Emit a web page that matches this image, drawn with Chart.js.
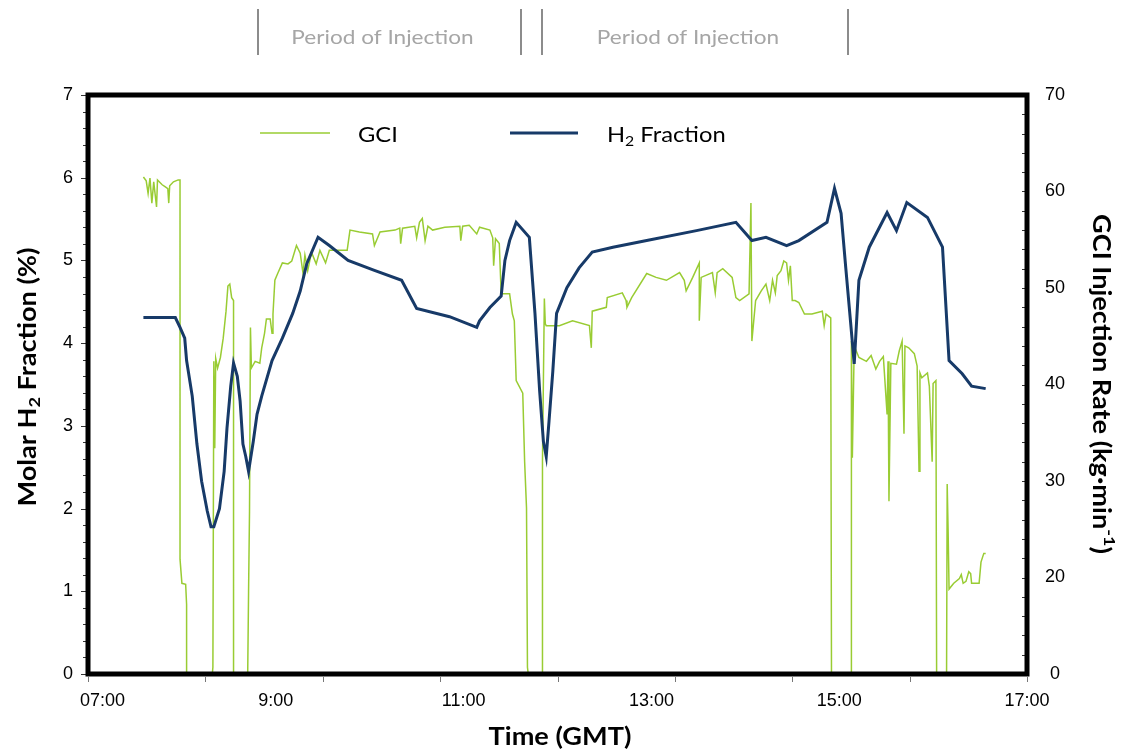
<!DOCTYPE html>
<html>
<head>
<meta charset="utf-8">
<script src="https://cdn.jsdelivr.net/npm/chart.js@4.4.1/dist/chart.umd.min.js"></script>
<style>
  html, body { margin: 0; padding: 0; background: #fff; }
  canvas { display: block; }
</style>
</head>
<body>
<canvas id="chart" width="1127" height="751"></canvas>
<script>
// Times are decimal hours (GMT)
const h2Times = [
  7.59, 7.93, 7.98, 8.03, 8.05, 8.11, 8.16, 8.21, 8.27, 8.31,
  8.34, 8.40, 8.45, 8.48, 8.52, 8.55, 8.59, 8.62, 8.65, 8.68,
  8.71, 8.76, 8.80, 8.85, 8.96, 9.07, 9.18, 9.26, 9.33, 9.45,
  9.57, 9.77, 10.05, 10.34, 10.50, 10.85, 11.14, 11.17, 11.28, 11.40,
  11.44, 11.49, 11.56, 11.70, 11.76, 11.81, 11.85, 11.88, 11.91, 11.95,
  11.99, 12.10, 12.23, 12.37, 12.59, 12.95, 13.48, 13.90, 14.07, 14.22,
  14.44, 14.57, 14.87, 14.95, 15.02, 15.07, 15.12, 15.16, 15.21, 15.32,
  15.51, 15.61, 15.72, 15.94, 16.10, 16.17, 16.31, 16.41, 16.56
];
// Molar H2 fraction (%)
const h2Fraction = [
  4.31, 4.31, 4.19, 4.06, 3.79, 3.36, 2.78, 2.33, 1.97, 1.78,
  1.78, 2.00, 2.45, 2.97, 3.48, 3.76, 3.60, 3.30, 2.78, 2.63,
  2.45, 2.81, 3.14, 3.36, 3.79, 4.06, 4.36, 4.63, 4.96, 5.28,
  5.18, 5.00, 4.88, 4.76, 4.42, 4.32, 4.19, 4.27, 4.43, 4.57,
  5.00, 5.24, 5.46, 5.28, 4.36, 3.42, 2.81, 2.63, 3.06, 3.66,
  4.36, 4.67, 4.91, 5.10, 5.16, 5.24, 5.36, 5.46, 5.24, 5.28,
  5.18, 5.24, 5.46, 5.87, 5.57, 4.91, 4.27, 3.75, 4.76, 5.16,
  5.58, 5.36, 5.70, 5.52, 5.16, 3.79, 3.63, 3.48, 3.45
];

const gciTimes = [
  7.59, 7.62, 7.64, 7.66, 7.68, 7.70, 7.73, 7.74, 7.79, 7.82,
  7.85, 7.86, 7.87, 7.91, 7.96, 7.98, 7.98, 8.00, 8.04, 8.05,
  8.05, 8.24, 8.33, 8.34, 8.35, 8.36, 8.38, 8.41, 8.44, 8.47,
  8.49, 8.51, 8.53, 8.55, 8.55, 8.69, 8.71, 8.72, 8.73, 8.74,
  8.78, 8.83, 8.85, 8.88, 8.90, 8.94, 8.96, 8.97, 8.99, 9.02,
  9.07, 9.13, 9.17, 9.22, 9.26, 9.29, 9.31, 9.34, 9.38, 9.43,
  9.47, 9.53, 9.57, 9.68, 9.76, 9.79, 9.89, 10.03, 10.05, 10.11,
  10.27, 10.32, 10.33, 10.35, 10.48, 10.50, 10.53, 10.56, 10.59, 10.62,
  10.67, 10.80, 10.96, 10.97, 10.99, 11.06, 11.14, 11.17, 11.28, 11.31,
  11.32, 11.34, 11.38, 11.40, 11.49, 11.52, 11.54, 11.56, 11.63, 11.65,
  11.67, 11.68, 11.81, 11.84, 11.84, 11.86, 11.87, 11.88, 12.02, 12.16,
  12.34, 12.36, 12.37, 12.52, 12.53, 12.69, 12.73, 12.74, 12.79, 12.95,
  13.05, 13.16, 13.30, 13.35, 13.37, 13.44, 13.51, 13.51, 13.53, 13.65,
  13.68, 13.70, 13.76, 13.86, 13.90, 13.94, 14.04, 14.06, 14.07, 14.11,
  14.17, 14.22, 14.26, 14.29, 14.32, 14.34, 14.38, 14.41, 14.44, 14.46,
  14.48, 14.50, 14.53, 14.57, 14.63, 14.71, 14.82, 14.84, 14.86, 14.91,
  14.92, 15.13, 15.13, 15.14, 15.16, 15.21, 15.29, 15.34, 15.39, 15.43,
  15.47, 15.51, 15.52, 15.53, 15.55, 15.61, 15.64, 15.67, 15.69, 15.70,
  15.74, 15.80, 15.83, 15.85, 15.86, 15.88, 15.94, 15.96, 15.99, 16.00,
  16.03, 16.04, 16.14, 16.15, 16.16, 16.17, 16.22, 16.28, 16.30, 16.32,
  16.35, 16.38, 16.40, 16.41, 16.49, 16.51, 16.54, 16.56
];
// GCI injection rate (kg/min)
const gciRate = [
  61.5, 61.1, 59.8, 61.4, 58.8, 61.0, 58.4, 61.2, 60.7, 60.5,
  60.3, 58.8, 60.6, 61.0, 61.2, 61.2, 21.9, 19.4, 19.3, 17.2,
  0, 0, 10.7, 42.4, 33.4, 42.7, 41.7, 42.8, 44.8, 47.6,
  50.2, 50.4, 49.0, 48.7, 0, 0, 18.5, 26.8, 45.9, 41.7,
  42.4, 42.2, 43.8, 45.3, 46.8, 46.8, 45.3, 47.3, 50.8, 51.5,
  52.6, 52.5, 52.8, 54.4, 53.6, 51.5, 53.4, 51.8, 53.7, 52.5,
  53.9, 52.6, 53.9, 53.9, 53.9, 56.0, 55.8, 55.6, 54.4, 55.8,
  56.0, 56.2, 54.6, 56.2, 56.4, 55.2, 56.8, 57.2, 54.9, 56.4,
  56.0, 56.3, 56.4, 54.9, 56.4, 56.5, 55.6, 56.3, 56.0, 55.2,
  52.3, 55.1, 54.6, 49.4, 49.4, 47.3, 46.6, 40.4, 39.1, 32.0,
  27.2, 10.7, 0, 0, 32.0, 48.9, 46.3, 46.1, 46.1, 46.6,
  46.1, 43.8, 47.6, 48.0, 49.0, 49.5, 48.7, 48.0, 49.0, 51.5,
  51.1, 50.8, 51.6, 50.8, 49.7, 51.1, 52.6, 46.6, 51.1, 51.6,
  49.5, 51.6, 52.0, 51.1, 49.0, 48.7, 49.4, 58.8, 44.5, 48.7,
  49.7, 50.4, 48.7, 50.8, 49.5, 51.3, 51.8, 52.8, 52.6, 50.8,
  52.3, 48.7, 48.7, 48.5, 47.3, 47.3, 47.6, 46.1, 47.3, 46.9,
  0, 0, 44.5, 32.4, 44.0, 42.8, 42.4, 43.0, 41.6, 42.4,
  42.9, 36.9, 42.4, 27.9, 42.2, 42.1, 43.5, 44.5, 34.9, 44.0,
  43.8, 43.2, 41.9, 31.0, 41.2, 40.7, 41.2, 39.8, 32.0, 40.1,
  40.4, 0, 0, 29.7, 24.8, 18.8, 19.4, 19.9, 20.3, 19.4,
  19.6, 20.6, 20.4, 19.4, 19.4, 21.6, 22.5, 22.5
];

// start/end of each injection period (decimal hours)
const injectionPeriods = [[8.81, 11.61], [11.84, 15.09]];

const timeTicks = [7, 9, 11, 13, 15, 17];
const timeLabels = ['07:00', '9:00', '11:00', '13:00', '15:00', '17:00'];
const rateLabels = ['0', '20', '30', '40', '50', '60', '70'];

const GREEN = '#99cc33';
const NAVY = '#173a68';
const TEXT_FONT = 'Lato, "Open Sans", sans-serif';
const STRETCH = 1.13;   // text here is set a little wide

// text made of plain / sub / sup pieces; align 'center' or 'left'
function drawRich(ctx, parts, x, y, opt) {
  const { size, weight = 'normal', angle = 0, align = 'center', color = '#000' } = opt;
  const big = `${weight} ${size}px ${TEXT_FONT}`;
  const small = `${weight} ${Math.round(size * 0.65)}px ${TEXT_FONT}`;
  ctx.save();
  ctx.translate(x, y);
  ctx.rotate(angle);
  ctx.scale(STRETCH, 1);
  ctx.fillStyle = color;
  ctx.textBaseline = 'middle';
  ctx.textAlign = 'left';
  let total = 0;
  parts.forEach(([t, k]) => { ctx.font = k ? small : big; total += ctx.measureText(t).width; });
  let cx = align === 'center' ? -total / 2 : 0;
  parts.forEach(([t, k]) => {
    ctx.font = k ? small : big;
    const dy = k === 'sub' ? size * 0.3 : k === 'sup' ? -size * 0.35 : 0;
    ctx.fillText(t, cx, dy);
    cx += ctx.measureText(t).width;
  });
  ctx.restore();
}

const decorations = {
  id: 'decorations',
  afterDraw(chart) {
    const { ctx, chartArea: a, scales } = chart;
    const xs = scales.x, yl = scales.y, yr = scales.y1;

    // small tick marks
    ctx.save();
    ctx.strokeStyle = '#333';
    ctx.lineWidth = 1;
    ctx.beginPath();
    for (let v = 0; v <= 7.001; v += 0.2) {
      const y = Math.round(yl.getPixelForValue(v)) + 0.5;
      const len = Math.abs(v - Math.round(v)) < 0.01 ? 5 : 3;
      ctx.moveTo(a.left - 2, y); ctx.lineTo(a.left - 2 - len, y);
    }
    for (let v = 10; v <= 70.001; v += 2) {
      const y = Math.round(yr.getPixelForValue(v)) + 0.5;
      ctx.moveTo(a.right - 2, y); ctx.lineTo(a.right - 5, y);
    }
    ctx.stroke();
    ctx.strokeStyle = '#777';
    ctx.beginPath();
    for (let i = 0; i <= 8; i++) {
      const x = Math.round(xs.getPixelForValue(7 + i * 1.25)) + 0.5;
      ctx.moveTo(x, a.bottom + 3); ctx.lineTo(x, a.bottom + 8);
    }
    ctx.stroke();

    // plot frame
    ctx.strokeStyle = '#000';
    ctx.lineWidth = 5;
    ctx.strokeRect(a.left, a.top, a.right - a.left, a.bottom - a.top);

    // time labels; the first one sits inside the frame edge
    ctx.fillStyle = '#000';
    ctx.font = '18px "Liberation Sans", Arial, sans-serif';
    ctx.textBaseline = 'middle';
    timeTicks.forEach((t, i) => {
      const x = xs.getPixelForValue(t);
      ctx.textAlign = i === 0 ? 'left' : 'center';
      ctx.fillText(timeLabels[i], i === 0 ? x - 8 : x, a.bottom + 27);
    });

    // legend
    ctx.lineWidth = 1.5;
    ctx.strokeStyle = GREEN;
    ctx.beginPath(); ctx.moveTo(260, 133); ctx.lineTo(330, 133); ctx.stroke();
    ctx.lineWidth = 3;
    ctx.strokeStyle = NAVY;
    ctx.beginPath(); ctx.moveTo(510, 133); ctx.lineTo(578, 133); ctx.stroke();
    ctx.restore();
    drawRich(ctx, [['GCI']], 358, 135, { size: 21, align: 'left' });
    drawRich(ctx, [['H'], ['2', 'sub'], [' Fraction']], 607, 135, { size: 21, align: 'left' });

    // axis titles
    drawRich(ctx, [['Molar H'], ['2', 'sub'], [' Fraction (%)']], 28, 377,
      { size: 24, weight: 'bold', angle: -Math.PI / 2 });
    drawRich(ctx, [['GCI Injection Rate (kg\u00b7min'], ['-1', 'sup'], [')']], 1101, 384,
      { size: 24, weight: 'bold', angle: Math.PI / 2 });
    drawRich(ctx, [['Time (GMT)']], 560, 737, { size: 24, weight: 'bold' });

    // injection period markers above the plot
    ctx.save();
    ctx.strokeStyle = '#8c8c8c';
    ctx.lineWidth = 2;
    injectionPeriods.forEach(([s, e]) => {
      const x0 = Math.round(xs.getPixelForValue(s));
      const x1 = Math.round(xs.getPixelForValue(e));
      ctx.beginPath();
      ctx.moveTo(x0, 9); ctx.lineTo(x0, 55);
      ctx.moveTo(x1, 9); ctx.lineTo(x1, 55);
      ctx.stroke();
      drawRich(ctx, [['Period of Injection']], (x0 + x1) / 2 - 7, 38, { size: 20, color: '#a6a6a6' });
    });
    ctx.restore();
  }
};

const tickFont = { family: '"Liberation Sans", Arial, sans-serif', size: 18 };

new Chart(document.getElementById('chart'), {
  type: 'line',
  data: {
    datasets: [
      {
        label: 'H2 Fraction',
        data: h2Times.map((t, i) => ({ x: t, y: h2Fraction[i] })),
        yAxisID: 'y',
        borderColor: NAVY,
        borderWidth: 3,
        pointRadius: 0,
        tension: 0
      },
      {
        label: 'GCI',
        data: gciTimes.map((t, i) => ({ x: t, y: gciRate[i] })),
        yAxisID: 'y1',
        borderColor: GREEN,
        borderWidth: 1.5,
        pointRadius: 0,
        tension: 0
      }
    ]
  },
  options: {
    responsive: false,
    animation: false,
    layout: { padding: { top: 95, left: 0, right: 0, bottom: 0 } },
    plugins: { legend: { display: false }, tooltip: { enabled: false } },
    scales: {
      x: {
        type: 'linear',
        min: 7,
        max: 17,
        grid: { display: false, drawTicks: false },
        border: { display: false },
        afterFit: s => { s.height = 77; },
        ticks: { display: false, stepSize: 2 }
      },
      y: {
        position: 'left',
        min: 0,
        max: 7,
        grid: { display: false, drawTicks: false },
        border: { display: false },
        afterFit: s => { s.width = 88; },
        ticks: { stepSize: 1, font: tickFont, color: '#000', padding: 15 }
      },
      y1: {
        position: 'right',
        min: 10,
        max: 70,
        grid: { display: false, drawTicks: false },
        border: { display: false },
        afterFit: s => { s.width = 100; },
        ticks: {
          stepSize: 10,
          font: tickFont,
          color: '#000',
          padding: 18,
          crossAlign: 'center',
          callback: (v, i) => rateLabels[i]
        }
      }
    }
  },
  plugins: [decorations]
});
</script>
</body>
</html>
